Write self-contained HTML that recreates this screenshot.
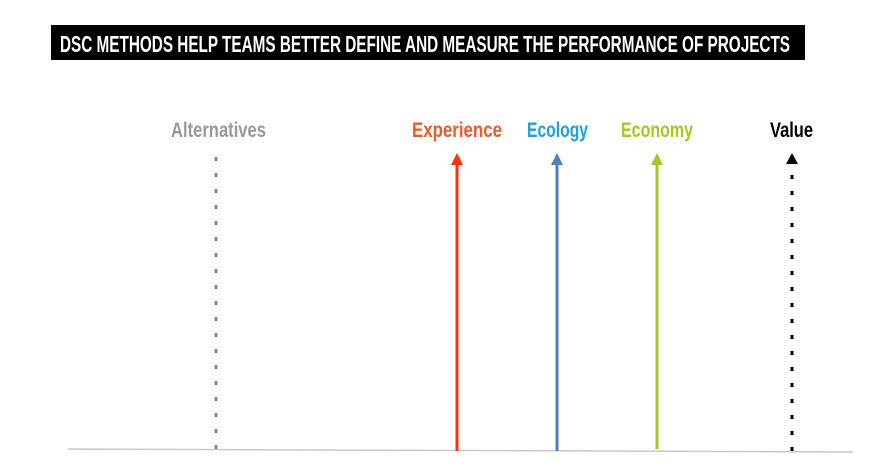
<!DOCTYPE html>
<html><head><style>
body{margin:0;background:#fff;width:886px;height:473px;overflow:hidden;}
svg text{font-family:"Liberation Sans",sans-serif;font-weight:bold;}
</style></head><body>
<svg width="886" height="473" style="position:absolute;left:0;top:0">
<rect x="51" y="25" width="754" height="35" fill="#000"/>
<text x="60" y="52" font-size="23" fill="#fff" textLength="730" lengthAdjust="spacingAndGlyphs">DSC METHODS HELP TEAMS BETTER DEFINE AND MEASURE THE PERFORMANCE OF PROJECTS</text>
<text x="171" y="137" font-size="21" fill="#999" textLength="95" lengthAdjust="spacingAndGlyphs">Alternatives</text>
<text x="412" y="137" font-size="21" fill="#f05a28" textLength="90" lengthAdjust="spacingAndGlyphs">Experience</text>
<text x="527" y="137" font-size="21" fill="#1aa3d6" textLength="61" lengthAdjust="spacingAndGlyphs">Ecology</text>
<text x="621" y="137" font-size="21" fill="#a6c81e" textLength="72" lengthAdjust="spacingAndGlyphs">Economy</text>
<text x="770" y="137" font-size="21" fill="#000" textLength="43" lengthAdjust="spacingAndGlyphs">Value</text>
<line x1="68" y1="449" x2="853" y2="452" stroke="#c8c8c8" stroke-width="1.5"/>
<line x1="216" y1="157" x2="216" y2="449" stroke="#888" stroke-width="3" stroke-dasharray="4 12"/>
<line x1="457" y1="163" x2="457" y2="451" stroke="#ff3300" stroke-width="3"/>
<polygon points="451,165 463,165 457,153" fill="#ff3300"/>
<line x1="557" y1="163" x2="557" y2="451" stroke="#4f81bd" stroke-width="3"/>
<polygon points="551,165 563,165 557,153" fill="#4f81bd"/>
<line x1="657" y1="163" x2="657" y2="449" stroke="#a6c81e" stroke-width="3"/>
<polygon points="651,165 663,165 657,153" fill="#a6c81e"/>
<polygon points="786,164 798,164 792,153" fill="#000"/>
<line x1="792" y1="175" x2="792" y2="452" stroke="#000" stroke-width="3" stroke-dasharray="4 12"/>
</svg>
</body></html>
